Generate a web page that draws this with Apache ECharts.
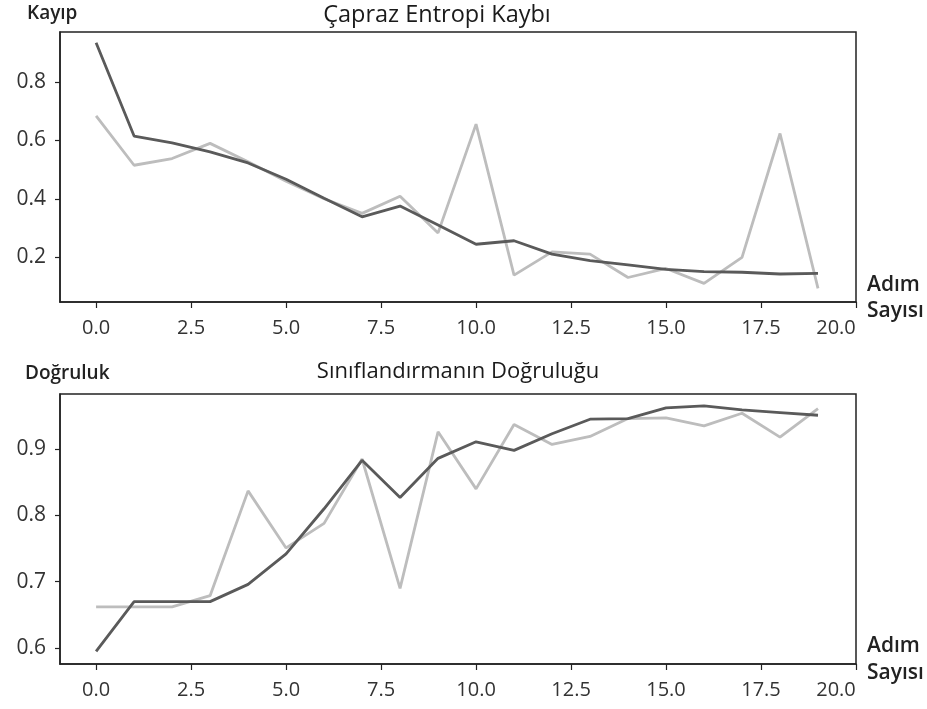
<!DOCTYPE html>
<html>
<head>
<meta charset="utf-8">
<script src="https://cdn.jsdelivr.net/npm/echarts@6/dist/echarts.min.js"></script>
<style>html,body{margin:0;padding:0;background:#fff;}#c{width:927px;height:709px;}</style>
</head>
<body>
<div id="c"></div>
<script>
const steps = [0,1,2,3,4,5,6,7,8,9,10,11,12,13,14,15,16,17,18,19];
const xTicks = [0, 2.5, 5, 7.5, 10, 12.5, 15, 17.5, 20];
const lossTicks = [0.2, 0.4, 0.6, 0.8];
const accTicks = [0.6, 0.7, 0.8, 0.9];
const lossDark = [0.935,0.615,0.592,0.561,0.523,0.467,0.402,0.338,0.375,0.31,0.244,0.256,0.21,0.188,0.173,0.158,0.15,0.148,0.142,0.144];
const lossLight = [0.684,0.515,0.538,0.59,0.527,0.46,0.4,0.35,0.409,0.283,0.656,0.138,0.218,0.21,0.13,0.161,0.11,0.199,0.624,0.093];
const accDark = [0.595,0.67,0.67,0.67,0.696,0.742,0.81,0.883,0.827,0.886,0.911,0.898,0.923,0.945,0.946,0.962,0.965,0.959,0.955,0.951];
const accLight = [0.662,0.662,0.662,0.679,0.837,0.751,0.788,0.885,0.69,0.926,0.84,0.937,0.907,0.919,0.946,0.947,0.935,0.954,0.918,0.961];

const FONT = '"Open Sans", "Noto Sans", sans-serif';
const chart = echarts.init(document.getElementById('c'), null, {renderer:'canvas'});

function xAxis(idx){
  return {
    type:'value', gridIndex:idx, min:-0.95, max:20,
    axisLine:{show:true, onZero:false, lineStyle:{color:'#222', width:1.5}},
    axisTick:{show:true, length:6, customValues:xTicks, lineStyle:{color:'#222', width:1.2}},
    axisLabel:{show:true, customValues:xTicks, margin:16, color:'#333', fontSize:20, fontFamily:FONT,
      formatter:v=> v === 20 ? '{last|' + v.toFixed(1) + '}' : v.toFixed(1),
      rich:{last:{fontSize:20, fontFamily:FONT, color:'#333', padding:[0,40,0,0]}}},
    splitLine:{show:false}
  };
}
function yAxis(idx, min, max, ticks){
  return {
    type:'value', gridIndex:idx, min:min, max:max,
    axisLine:{show:true, onZero:false, lineStyle:{color:'#222', width:1.5}},
    axisTick:{show:true, length:5, customValues:ticks, lineStyle:{color:'#222', width:1.2}},
    axisLabel:{show:true, customValues:ticks, margin:14, color:'#333', fontSize:21, fontFamily:FONT,
      formatter:v=>v.toFixed(1)},
    splitLine:{show:false}
  };
}
function line(xi, data, color, z){
  return {
    type:'line', xAxisIndex:xi, yAxisIndex:xi, data: steps.map((s,i)=>[s, data[i]]),
    showSymbol:false, symbol:'none', z:z, animation:false,
    lineStyle:{color:color, width:2.8}
  };
}
function txt(str, x, y, size, weight, align, color){
  return {type:'text', x:x, y:y, silent:true, style:{text:str, fill:color||'#222', textAlign:align||'left', textVerticalAlign:'middle',
    font: (weight||'normal') + ' ' + size + 'px ' + FONT}};
}

chart.setOption({
  backgroundColor:'#fff',
  animation:false,
  graphic:[
    txt('Kayıp', 27, 14, 19, 600, 'left'),
    txt('Çapraz Entropi Kaybı', 437, 15, 23.5, 'normal', 'center', '#1a1a1a'),
    txt('Adım', 867, 285, 21, 600, 'left'),
    txt('Sayısı', 867, 311, 21, 600, 'left'),
    txt('Doğruluk', 25, 374, 19, 600, 'left'),
    txt('Sınıflandırmanın Doğruluğu', 458, 372, 22, 'normal', 'center', '#1a1a1a'),
    txt('Adım', 867, 646, 21, 600, 'left'),
    txt('Sayısı', 867, 673, 21, 600, 'left')
  ],
  grid:[
    {left:60, right:71, top:32, height:270, show:true, borderColor:'#222', borderWidth:1.5, backgroundColor:'transparent'},
    {left:60, right:71, top:394, height:270, show:true, borderColor:'#222', borderWidth:1.5, backgroundColor:'transparent'}
  ],
  xAxis:[xAxis(0), xAxis(1)],
  yAxis:[yAxis(0, 0.046, 0.972, lossTicks), yAxis(1, 0.576, 0.983, accTicks)],
  series:[
    line(0, lossLight, '#bdbdbd', 2),
    line(0, lossDark, '#5a5a5a', 3),
    line(1, accLight, '#bdbdbd', 2),
    line(1, accDark, '#5a5a5a', 3)
  ]
});
</script>
</body>
</html>
